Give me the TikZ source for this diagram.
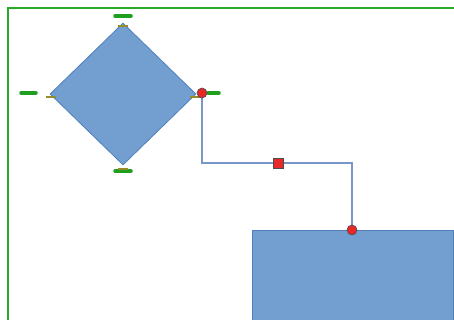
\documentclass[tikz,border=0pt]{standalone}
\usetikzlibrary{shapes.geometric,backgrounds}
\definecolor{shapefill}{RGB}{114,159,207}
\definecolor{shapeline}{RGB}{80,128,188}
\definecolor{connline}{RGB}{120,150,200}
\definecolor{framegreen}{RGB}{40,170,40}
\definecolor{handlegreen}{RGB}{30,160,30}
\definecolor{olive}{RGB}{150,140,40}
\definecolor{markred}{RGB}{230,40,40}
\tikzset{
  shapestyle/.style={fill=shapefill, draw=shapeline, line width=0.8pt},
  gluehandle/.style={draw=handlegreen, line width=3.5pt, line cap=round},
  oliveh/.style={draw=olive, line width=1.5pt},
  redmark/.style={fill=markred, draw=black!70, line width=0.6pt, inner sep=0pt},
  connector/.style={draw=connline, line width=1.3pt},
}
\begin{document}
\begin{tikzpicture}[x=1pt,y=-1pt]
\useasboundingbox (0,0) rectangle (454,320);
% frame
\draw[framegreen, line width=1.1pt] (8,322) -- (8,8) -- (456,8);
% shapes
\node[shapestyle, diamond, aspect=1, minimum width=146pt, minimum height=142pt, inner sep=0pt] (dia) at (123,94) {};
\node[shapestyle, rectangle, anchor=north west, minimum width=201pt, minimum height=95pt, inner sep=0pt] (box) at (252,230) {};
% glue handles
\draw[gluehandle] (115,16) -- (131,16);
\draw[gluehandle] (115,171) -- (131,171);
\draw[gluehandle] (21,93) -- (36,93);
\draw[gluehandle] (208,93) -- (219,93);
\draw[oliveh] (118,26) -- (128,26);
\draw[oliveh] (46,97) -- (56,97);
\draw[oliveh] (190,97) -- (200,97);
\draw[oliveh] (118,169) -- (128,169);
% connector markers
\node[redmark, circle, minimum size=10pt] (c1) at (202,93) {};
\node[redmark, rectangle, minimum size=10pt] (sq) at (278,163) {};
\node[redmark, circle, minimum size=10pt] (c2) at (352,230) {};
\begin{scope}[on background layer]
\draw[connector] (c1.center) |- (sq.center) -| (c2.center);
\end{scope}
\end{tikzpicture}
\end{document}
